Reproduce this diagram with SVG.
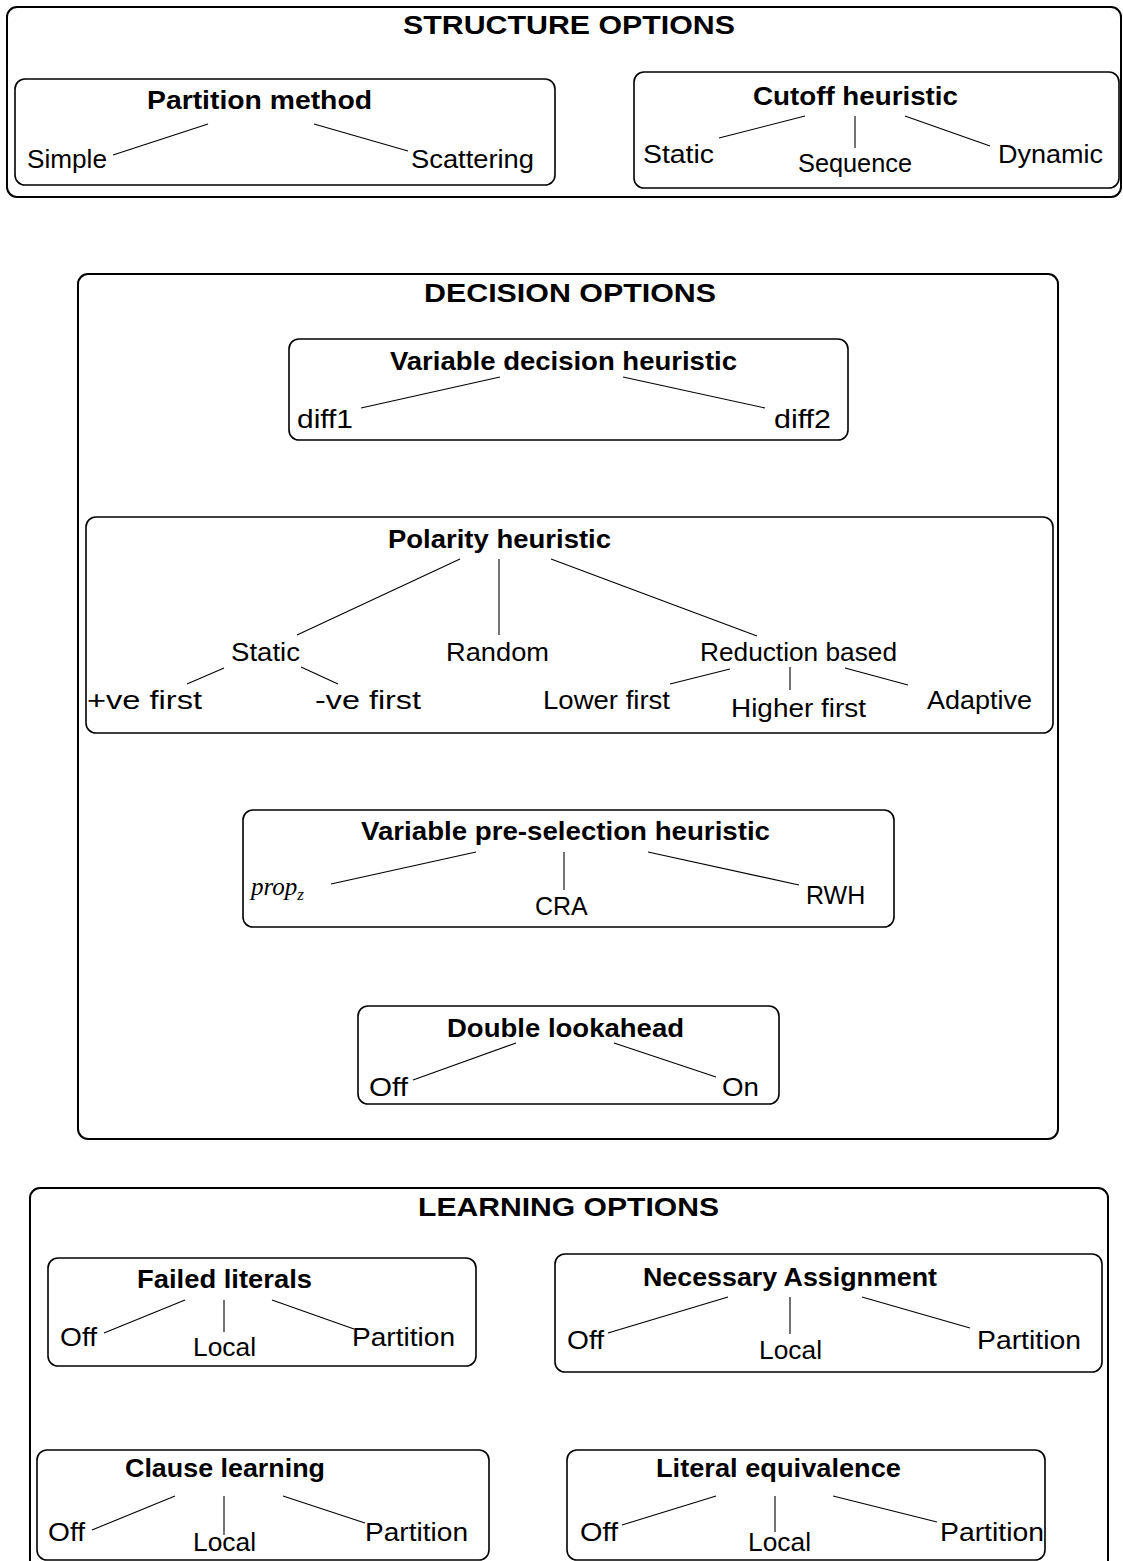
<svg xmlns="http://www.w3.org/2000/svg" width="1123" height="1561" viewBox="0 0 1123 1561">
<style>
.outer{fill:none;stroke:#000;stroke-width:2}
.box{fill:none;stroke:#000;stroke-width:1.6}
.ln{stroke:#000;stroke-width:1.1;fill:none}
.t{font-family:"Liberation Sans",Arial,sans-serif;font-size:25px;fill:#000}
.b{font-family:"Liberation Sans",Arial,sans-serif;font-size:25px;font-weight:bold;fill:#000}
.m{font-family:"Liberation Serif","Times New Roman",serif;font-style:italic;font-size:25px;fill:#000}
</style>
<rect width="1123" height="1561" fill="#fff"/>

<g id="structure-options">
<rect class="outer" x="7" y="7" width="1114" height="190" rx="10"/>
<text class="b" x="403" y="34" textLength="332" lengthAdjust="spacingAndGlyphs">STRUCTURE OPTIONS</text>
</g>
<g id="partition-method">
<rect class="box" x="15" y="79" width="540" height="106" rx="10"/>
<text class="b" x="147" y="109" textLength="225" lengthAdjust="spacingAndGlyphs">Partition method</text>
<text class="t" x="27" y="168" textLength="80" lengthAdjust="spacingAndGlyphs">Simple</text>
<text class="t" x="411" y="168" textLength="123" lengthAdjust="spacingAndGlyphs">Scattering</text>
</g>
<g id="cutoff-heuristic">
<rect class="box" x="634" y="72" width="485" height="116" rx="10"/>
<text class="b" x="753" y="105" textLength="205" lengthAdjust="spacingAndGlyphs">Cutoff heuristic</text>
<text class="t" x="643" y="163" textLength="71" lengthAdjust="spacingAndGlyphs">Static</text>
<text class="t" x="798" y="172" textLength="114" lengthAdjust="spacingAndGlyphs">Sequence</text>
<text class="t" x="998" y="163" textLength="105" lengthAdjust="spacingAndGlyphs">Dynamic</text>
</g>

<g id="decision-options">
<rect class="outer" x="78" y="274" width="980" height="865" rx="10"/>
<text class="b" x="424" y="302" textLength="292" lengthAdjust="spacingAndGlyphs">DECISION OPTIONS</text>
</g>
<g id="variable-decision-heuristic">
<rect class="box" x="289" y="339" width="559" height="101" rx="10"/>
<text class="b" x="390" y="370" textLength="347" lengthAdjust="spacingAndGlyphs">Variable decision heuristic</text>
<text class="t" x="297" y="428" textLength="56" lengthAdjust="spacingAndGlyphs">diff1</text>
<text class="t" x="774" y="428" textLength="57" lengthAdjust="spacingAndGlyphs">diff2</text>
</g>
<g id="polarity-heuristic">
<rect class="box" x="86" y="517" width="967" height="216" rx="10"/>
<text class="b" x="388" y="548" textLength="223" lengthAdjust="spacingAndGlyphs">Polarity heuristic</text>
<text class="t" x="231" y="661" textLength="69" lengthAdjust="spacingAndGlyphs">Static</text>
<text class="t" x="446" y="661" textLength="103" lengthAdjust="spacingAndGlyphs">Random</text>
<text class="t" x="700" y="661" textLength="197" lengthAdjust="spacingAndGlyphs">Reduction based</text>
<text class="t" x="87" y="709" textLength="115" lengthAdjust="spacingAndGlyphs">+ve first</text>
<text class="t" x="315" y="709" textLength="106" lengthAdjust="spacingAndGlyphs">-ve first</text>
<text class="t" x="543" y="709" textLength="127" lengthAdjust="spacingAndGlyphs">Lower first</text>
<text class="t" x="731" y="717" textLength="135" lengthAdjust="spacingAndGlyphs">Higher first</text>
<text class="t" x="927" y="709" textLength="105" lengthAdjust="spacingAndGlyphs">Adaptive</text>
</g>
<g id="variable-pre-selection-heuristic">
<rect class="box" x="243" y="810" width="651" height="117" rx="10"/>
<text class="b" x="361" y="840" textLength="409" lengthAdjust="spacingAndGlyphs">Variable pre-selection heuristic</text>
<text class="m" x="251" y="895">prop<tspan font-size="17" dy="5">z</tspan></text>
<text class="t" x="535" y="915">CRA</text>
<text class="t" x="806" y="904">RWH</text>
</g>
<g id="double-lookahead">
<rect class="box" x="358" y="1006" width="421" height="98" rx="10"/>
<text class="b" x="447" y="1037" textLength="237" lengthAdjust="spacingAndGlyphs">Double lookahead</text>
<text class="t" x="369" y="1096" textLength="39" lengthAdjust="spacingAndGlyphs">Off</text>
<text class="t" x="722" y="1096" textLength="37" lengthAdjust="spacingAndGlyphs">On</text>
</g>

<g id="learning-options">
<rect class="outer" x="30" y="1188" width="1078" height="400" rx="10"/>
<text class="b" x="418" y="1216" textLength="301" lengthAdjust="spacingAndGlyphs">LEARNING OPTIONS</text>
</g>
<g id="failed-literals">
<rect class="box" x="48" y="1258" width="428" height="108" rx="10"/>
<text class="b" x="137" y="1288" textLength="175" lengthAdjust="spacingAndGlyphs">Failed literals</text>
<text class="t" x="60" y="1346" textLength="37" lengthAdjust="spacingAndGlyphs">Off</text>
<text class="t" x="193" y="1356" textLength="63" lengthAdjust="spacingAndGlyphs">Local</text>
<text class="t" x="352" y="1346" textLength="103" lengthAdjust="spacingAndGlyphs">Partition</text>
</g>
<g id="necessary-assignment">
<rect class="box" x="555" y="1254" width="547" height="118" rx="10"/>
<text class="b" x="643" y="1286" textLength="294" lengthAdjust="spacingAndGlyphs">Necessary Assignment</text>
<text class="t" x="567" y="1349" textLength="37" lengthAdjust="spacingAndGlyphs">Off</text>
<text class="t" x="759" y="1359" textLength="63" lengthAdjust="spacingAndGlyphs">Local</text>
<text class="t" x="977" y="1349" textLength="104" lengthAdjust="spacingAndGlyphs">Partition</text>
</g>
<g id="clause-learning">
<rect class="box" x="37" y="1450" width="452" height="110" rx="10"/>
<text class="b" x="125" y="1477" textLength="200" lengthAdjust="spacingAndGlyphs">Clause learning</text>
<text class="t" x="48" y="1541" textLength="37" lengthAdjust="spacingAndGlyphs">Off</text>
<text class="t" x="193" y="1551" textLength="63" lengthAdjust="spacingAndGlyphs">Local</text>
<text class="t" x="365" y="1541" textLength="103" lengthAdjust="spacingAndGlyphs">Partition</text>
</g>
<g id="literal-equivalence">
<rect class="box" x="567" y="1450" width="478" height="110" rx="10"/>
<text class="b" x="656" y="1477" textLength="245" lengthAdjust="spacingAndGlyphs">Literal equivalence</text>
<text class="t" x="580" y="1541" textLength="38" lengthAdjust="spacingAndGlyphs">Off</text>
<text class="t" x="748" y="1551" textLength="63" lengthAdjust="spacingAndGlyphs">Local</text>
<text class="t" x="940" y="1541" textLength="104" lengthAdjust="spacingAndGlyphs">Partition</text>
</g>

<g id="connectors">
<line class="ln" x1="113" y1="155" x2="208" y2="124"/>
<line class="ln" x1="314" y1="124" x2="408" y2="151"/>
<line class="ln" x1="719" y1="138" x2="805" y2="116"/>
<line class="ln" x1="855" y1="116" x2="855" y2="148"/>
<line class="ln" x1="905" y1="116" x2="990" y2="146"/>
<line class="ln" x1="361" y1="408" x2="500" y2="377"/>
<line class="ln" x1="623" y1="377" x2="765" y2="408"/>
<line class="ln" x1="297" y1="635" x2="460" y2="559"/>
<line class="ln" x1="499" y1="559" x2="499" y2="635"/>
<line class="ln" x1="551" y1="559" x2="757" y2="636"/>
<line class="ln" x1="187" y1="684" x2="224" y2="668"/>
<line class="ln" x1="301" y1="667" x2="338" y2="684"/>
<line class="ln" x1="670" y1="684" x2="730" y2="669"/>
<line class="ln" x1="790" y1="667" x2="790" y2="690"/>
<line class="ln" x1="845" y1="668" x2="908" y2="685"/>
<line class="ln" x1="331" y1="884" x2="476" y2="852"/>
<line class="ln" x1="564" y1="852" x2="564" y2="890"/>
<line class="ln" x1="648" y1="852" x2="799" y2="885"/>
<line class="ln" x1="413" y1="1080" x2="516" y2="1043"/>
<line class="ln" x1="614" y1="1043" x2="716" y2="1077"/>
<line class="ln" x1="104" y1="1333" x2="185" y2="1300"/>
<line class="ln" x1="224" y1="1300" x2="224" y2="1332"/>
<line class="ln" x1="272" y1="1300" x2="354" y2="1329"/>
<line class="ln" x1="608" y1="1333" x2="728" y2="1297"/>
<line class="ln" x1="790" y1="1297" x2="790" y2="1334"/>
<line class="ln" x1="862" y1="1297" x2="970" y2="1328"/>
<line class="ln" x1="92" y1="1530" x2="175" y2="1496"/>
<line class="ln" x1="224" y1="1496" x2="224" y2="1535"/>
<line class="ln" x1="283" y1="1496" x2="365" y2="1523"/>
<line class="ln" x1="622" y1="1525" x2="716" y2="1496"/>
<line class="ln" x1="775" y1="1496" x2="775" y2="1532"/>
<line class="ln" x1="833" y1="1496" x2="937" y2="1522"/>
</g>
</svg>
